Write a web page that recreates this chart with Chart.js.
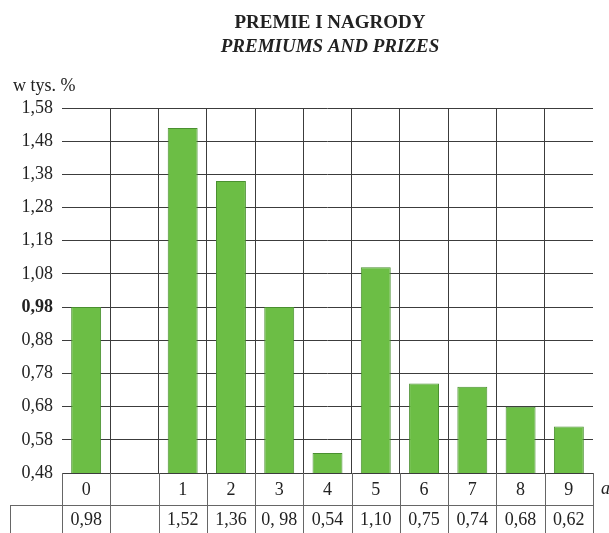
<!DOCTYPE html>
<html>
<head>
<meta charset="utf-8">
<script src="https://cdn.jsdelivr.net/npm/chart.js@4.4.0/dist/chart.umd.min.js"></script>
<style>
  html, body { margin: 0; padding: 0; background: #fff; }
  #wrap { width: 609px; height: 533px; }
</style>
</head>
<body>
<div id="wrap"><canvas id="chart" width="609" height="533"></canvas></div>
<script>
// Dane z wykresu
const categories = ['0', '', '1', '2', '3', '4', '5', '6', '7', '8', '9'];
const values = [0.98, null, 1.52, 1.36, 0.98, 0.54, 1.10, 0.75, 0.74, 0.68, 0.62];
const valueLabels = ['0,98', '', '1,52', '1,36', '0, 98', '0,54', '1,10', '0,75', '0,74', '0,68', '0,62'];
const yTicks = [0.48, 0.58, 0.68, 0.78, 0.88, 0.98, 1.08, 1.18, 1.28, 1.38, 1.48, 1.58];

const titleMain = 'PREMIE I NAGRODY';
const titleSub = 'PREMIUMS AND PRIZES';
const yUnit = 'w tys. %';
const xUnit = 'a';

const FONT = '"Liberation Serif", "Times New Roman", serif';
const TEXT = '#222';
const GRID = '#3c3c3c';
const TABLE = '#666';

// Rysowanie tabeli pod wykresem + napisy
const tablePlugin = {
  id: 'tablePlugin',
  afterDraw(chart) {
    const ctx = chart.ctx;
    const area = chart.chartArea;
    const xs = chart.scales.x;
    const half = (xs.getPixelForValue(1) - xs.getPixelForValue(0)) / 2;
    const rowTop = area.bottom;
    const rowMid = 505;
    const rowBottom = 533;

    ctx.save();
    ctx.strokeStyle = TABLE;
    ctx.lineWidth = 1;
    ctx.beginPath();
    // pionowe linie tabeli
    for (let i = 0; i <= categories.length; i++) {
      const x = Math.round(xs.getPixelForValue(0) - half + i * 2 * half) + 0.5;
      ctx.moveTo(x, rowTop);
      ctx.lineTo(x, rowBottom);
    }
    // lewa komórka wiersza wartości
    ctx.moveTo(10.5, rowMid);
    ctx.lineTo(10.5, rowBottom);
    ctx.moveTo(10, rowMid + 0.5);
    ctx.lineTo(Math.round(area.right) + 1, rowMid + 0.5);
    ctx.stroke();

    // wartości
    ctx.fillStyle = TEXT;
    ctx.font = '18px ' + FONT;
    ctx.textAlign = 'center';
    ctx.textBaseline = 'middle';
    valueLabels.forEach((v, i) => {
      ctx.fillText(v, xs.getPixelForValue(i), 520);
    });

    // oznaczenie osi x
    ctx.font = 'italic 18px ' + FONT;
    ctx.textAlign = 'left';
    ctx.fillText(xUnit, 601, 489);

    // jednostka osi y
    ctx.font = '18px ' + FONT;
    ctx.fillText(yUnit, 13, 86);

    // tytuł
    ctx.textAlign = 'center';
    ctx.font = 'bold 19px ' + FONT;
    ctx.fillText(titleMain, 330, 23);
    ctx.font = 'italic bold 19px ' + FONT;
    ctx.fillText(titleSub, 330, 47);
    ctx.restore();
  }
};

new Chart(document.getElementById('chart'), {
  type: 'bar',
  data: {
    labels: categories,
    datasets: [{
      data: values,
      backgroundColor: '#6cbe45',
      borderColor: '#4a9030',
      borderWidth: 1,
      borderSkipped: false,
      barPercentage: 0.62,
      categoryPercentage: 1
    }]
  },
  options: {
    responsive: false,
    animation: false,
    layout: { padding: { top: 108, right: 16, bottom: 0, left: 0 } },
    plugins: {
      legend: { display: false },
      tooltip: { enabled: false }
    },
    scales: {
      x: {
        grid: {
          offset: true,
          drawTicks: false,
          // bez krawędzi lewej i prawej w polu wykresu
          color: (c) => (c.type !== 'tick' || c.index === 0) ? 'rgba(0,0,0,0)' : GRID,
          lineWidth: 1
        },
        border: { display: true, color: GRID, width: 1 },
        ticks: {
          color: TEXT,
          font: { family: FONT, size: 18 },
          padding: 6,
          autoSkip: false,
          maxRotation: 0
        },
        afterFit: (s) => { s.height = 60; }
      },
      y: {
        min: 0.48,
        max: 1.58,
        afterBuildTicks: (s) => { s.ticks = yTicks.map(v => ({ value: v })); },
        grid: { drawTicks: false, color: GRID, lineWidth: 1 },
        border: { display: false },
        ticks: {
          color: TEXT,
          padding: 9,
          font: (c) => ({
            family: FONT,
            size: 18,
            weight: (c.tick && Math.abs(c.tick.value - 0.98) < 1e-6) ? 'bold' : 'normal'
          }),
          callback: (v) => Number(v).toFixed(2).replace('.', ',')
        },
        afterFit: (s) => { s.width = 62; }
      }
    }
  },
  plugins: [tablePlugin]
});
</script>
</body>
</html>
